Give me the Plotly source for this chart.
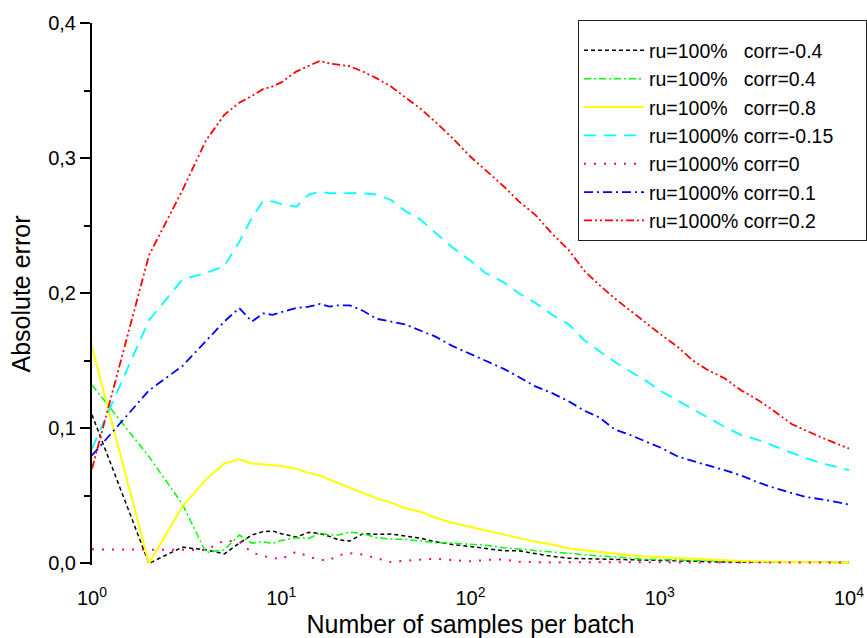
import plotly.graph_objects as go

# Samples per batch (shared x values)
x_samples = [1, 2, 3, 4, 5, 6, 7, 8, 9, 10, 12, 14, 16, 18, 20, 23, 27, 32, 38, 45,
             55, 65, 80, 100, 120, 150, 180, 220, 270, 330, 400, 480, 580, 700, 850,
             1000, 1250, 1500, 1800, 2200, 2700, 3300, 4000, 5000, 6000, 7500, 10000]

ru100_corr_m04 = [0.110, 0.000, 0.012, 0.010, 0.007, 0.015, 0.021, 0.0235, 0.024, 0.022,
                  0.0195, 0.023, 0.022, 0.020, 0.0175, 0.0165, 0.022, 0.0215, 0.0217, 0.020,
                  0.0185, 0.016, 0.014, 0.0125, 0.011, 0.0093, 0.0093, 0.007, 0.0052, 0.0038,
                  0.0035, 0.0030, 0.0028, 0.0025, 0.0022, 0.0020, 0.0017, 0.0015, 0.0012, 0.0010,
                  0.0009, 0.0008, 0.0008, 0.0007, 0.0007, 0.0007, 0.0007]

ru100_corr_04 = [0.132, 0.079, 0.044, 0.008, 0.010, 0.021, 0.015, 0.016, 0.0148, 0.017,
                 0.019, 0.0185, 0.0225, 0.021, 0.021, 0.0232, 0.022, 0.019, 0.018, 0.0178,
                 0.0165, 0.0153, 0.015, 0.0143, 0.0135, 0.0115, 0.0105, 0.0095, 0.0085, 0.0075,
                 0.0062, 0.0055, 0.0048, 0.0038, 0.0030, 0.0028, 0.0024, 0.0020, 0.0018, 0.0016,
                 0.0014, 0.0012, 0.0011, 0.0010, 0.0009, 0.0008, 0.0007]

ru100_corr_08 = [0.160, 0.000, 0.042, 0.062, 0.074, 0.077, 0.074, 0.073, 0.0726, 0.072,
                 0.070, 0.067, 0.065, 0.062, 0.0595, 0.056, 0.052, 0.048, 0.045, 0.041,
                 0.038, 0.034, 0.030, 0.027, 0.024, 0.021, 0.019, 0.016, 0.014, 0.011,
                 0.0098, 0.0085, 0.0072, 0.0060, 0.0050, 0.0045, 0.0037, 0.0030, 0.0025, 0.0020,
                 0.0017, 0.0014, 0.0012, 0.0010, 0.0008, 0.0006, 0.0005]

ru1000_corr_m015 = [0.085, 0.180, 0.210, 0.215, 0.220, 0.238, 0.256, 0.268, 0.268, 0.266,
                    0.264, 0.273, 0.275, 0.274, 0.274, 0.274, 0.274, 0.273, 0.269, 0.261,
                    0.254, 0.245, 0.234, 0.224, 0.215, 0.208, 0.200, 0.193, 0.184, 0.177,
                    0.165, 0.157, 0.149, 0.142, 0.135, 0.128, 0.120, 0.114, 0.108, 0.101,
                    0.095, 0.0915, 0.087, 0.082, 0.0775, 0.0735, 0.069]

ru1000_corr_0 = [0.0104, 0.0099, 0.0099, 0.0099, 0.017, 0.016, 0.008, 0.0055, 0.004, 0.0032,
                 0.0086, 0.005, 0.0025, 0.0025, 0.006, 0.0075, 0.0065, 0.004, 0.001, 0.002,
                 0.003, 0.0035, 0.0025, 0.0015, 0.0025, 0.003, 0.0012, 0.0008, 0.0007, 0.0008,
                 0.0010, 0.0009, 0.0008, 0.0007, 0.0007, 0.0007, 0.0007, 0.0007, 0.0007, 0.0007,
                 0.0007, 0.0007, 0.0007, 0.0007, 0.0007, 0.0007, 0.0007]

ru1000_corr_01 = [0.080, 0.128, 0.146, 0.165, 0.179, 0.189, 0.179, 0.185, 0.184, 0.186,
                  0.189, 0.190, 0.192, 0.190, 0.191, 0.191, 0.187, 0.181, 0.179, 0.177,
                  0.172, 0.168, 0.161, 0.155, 0.150, 0.144, 0.138, 0.131, 0.126, 0.120,
                  0.113, 0.108, 0.099, 0.095, 0.090, 0.086, 0.079, 0.076, 0.0725, 0.069,
                  0.065, 0.060, 0.056, 0.052, 0.049, 0.047, 0.0435]

ru1000_corr_02 = [0.070, 0.228, 0.276, 0.313, 0.332, 0.341, 0.346, 0.351, 0.353, 0.356,
                  0.364, 0.368, 0.372, 0.370, 0.369, 0.368, 0.364, 0.359, 0.353, 0.345,
                  0.336, 0.327, 0.315, 0.301, 0.291, 0.279, 0.268, 0.258, 0.244, 0.232,
                  0.2165, 0.206, 0.196, 0.187, 0.178, 0.170, 0.160, 0.150, 0.143, 0.137,
                  0.128, 0.121, 0.113, 0.103, 0.098, 0.092, 0.085]

series_names = ["ru=100%   corr=-0.4", "ru=100%   corr=0.4", "ru=100%   corr=0.8",
                "ru=1000% corr=-0.15     ", "ru=1000% corr=0", "ru=1000% corr=0.1",
                "ru=1000% corr=0.2"]
series_values = [ru100_corr_m04, ru100_corr_04, ru100_corr_08, ru1000_corr_m015,
                 ru1000_corr_0, ru1000_corr_01, ru1000_corr_02]

x_tick_vals = [1, 10, 100, 1000, 10000]
x_tick_text = ["10<sup>0</sup>", "10<sup>1</sup>", "10<sup>2</sup>", "10<sup>3</sup>", "10<sup>4</sup>"]
y_tick_vals = [0.0, 0.1, 0.2, 0.3, 0.4]
y_tick_text = ["0,0", "0,1", "0,2", "0,3", "0,4"]

styles = [
    dict(color="#000000", dash="4px,3px", width=1.5),
    dict(color="#00FF00", dash="7px,3px,2px,3px", width=1.5),
    dict(color="#FFFF00", dash="solid", width=2),
    dict(color="#00FFFF", dash="12px,8px", width=1.8),
    dict(color="#FF0080", dash="2px,8px", width=2),
    dict(color="#0000FF", dash="9px,4px,2px,4px", width=1.8),
    dict(color="#FF0000", dash="8px,3px,2px,3px,2px,3px", width=1.8),
]

FONT = "Arial, Liberation Sans, sans-serif"

fig = go.Figure()
for name, vals, st in zip(series_names, series_values, styles):
    fig.add_trace(go.Scatter(x=x_samples, y=vals, mode="lines", name=name, line=st))

fig.update_layout(
    width=867, height=638,
    margin=dict(l=92, r=18, t=23, b=73, autoexpand=False),
    plot_bgcolor="white", paper_bgcolor="white",
    font=dict(family=FONT, color="black", size=20),
    showlegend=True,
    legend=dict(
        x=0.642, y=1.006, xanchor="left", yanchor="top",
        bgcolor="white", bordercolor="#222222", borderwidth=1,
        font=dict(family=FONT, size=19.5, color="black"),
        itemwidth=60,
        title=dict(text=" ", font=dict(size=8)),
    ),
    xaxis=dict(
        type="log", range=[0, 4], automargin=False,
        tickvals=x_tick_vals, ticktext=x_tick_text,
        showline=False, ticks="", showgrid=False, zeroline=False,
        ticklabelstandoff=19,
        tickfont=dict(family=FONT, size=20, color="black"),
        title=dict(text="Number of samples per batch",
                   font=dict(family=FONT, size=25, color="black"), standoff=17),
    ),
    yaxis=dict(
        range=[-0.0012, 0.4], automargin=False,
        tickvals=y_tick_vals, ticktext=y_tick_text,
        showline=True, linecolor="black", linewidth=2,
        ticks="outside", ticklen=10, tickwidth=2, tickcolor="black",
        minor=dict(dtick=0.05, tick0=0, ticks="outside", ticklen=6, tickwidth=2, tickcolor="black"),
        showgrid=False, zeroline=False,
        tickfont=dict(family=FONT, size=20, color="black"),
        title=dict(text="Absolute error",
                   font=dict(family=FONT, size=25, color="black"), standoff=10),
    ),
)

fig.write_html("out.html", config={"displayModeBar": False},
               post_script="document.body.style.margin='0';")
